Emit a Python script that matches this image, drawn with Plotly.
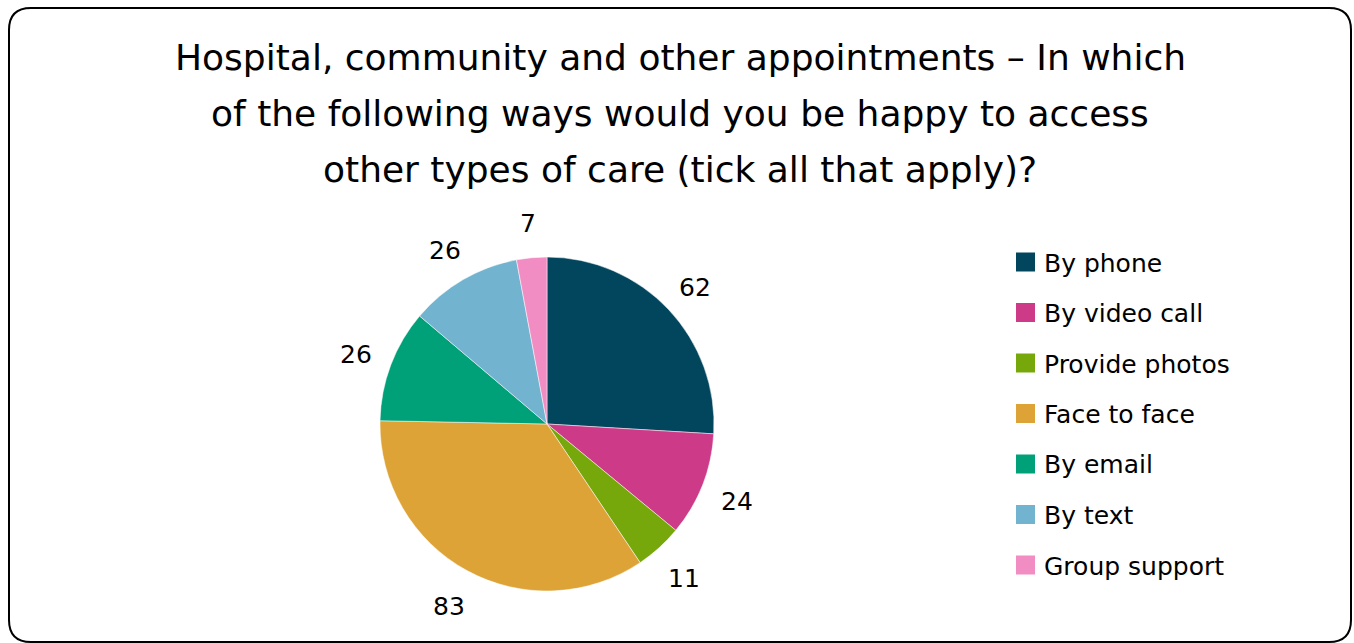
import math
import plotly.graph_objects as go

# Survey answers: ways respondents would be happy to access other types of care
categories = ["By phone", "By video call", "Provide photos", "Face to face",
              "By email", "By text", "Group support"]
counts = [62, 24, 11, 83, 26, 26, 7]
colors = ["#02465e", "#cc3a88", "#76a80b", "#dda337", "#00a078", "#72b3cf", "#f28dc4"]
title_lines = [
    "Hospital, community and other appointments \u2013 In which",
    "of the following ways would you be happy to access",
    "other types of care (tick all that apply)?",
]

W, H = 1354, 643
FONT = "DejaVu Sans"


def px_x(x):
    return x / W


def px_y(y):
    return 1 - y / H


# pie geometry in pixels
cx, cy, r = 547, 424, 167
label_r = 204

fig = go.Figure()
fig.add_trace(go.Pie(
    labels=categories,
    values=counts,
    sort=False,
    direction="clockwise",
    rotation=0,
    marker=dict(colors=colors, line=dict(color="white", width=0.5)),
    textinfo="none",
    hoverinfo="label+value",
    showlegend=False,
    domain=dict(x=[px_x(cx - r), px_x(cx + r)], y=[px_y(cy + r), px_y(cy - r)]),
))

annotations = []

# value labels placed outside each slice at its mid-angle
total = sum(counts)
acc = 0
for v in counts:
    mid = (acc + v / 2) / total * 2 * math.pi
    acc += v
    lx = cx + label_r * math.sin(mid)
    ly = cy - label_r * math.cos(mid) + 3
    annotations.append(dict(
        x=px_x(lx), y=px_y(ly), xref="paper", yref="paper",
        text=str(v), showarrow=False, xanchor="center", yanchor="middle",
        font=dict(family=FONT, size=25, color="#000000"),
    ))

# title, one line per annotation
for i, line in enumerate(title_lines):
    annotations.append(dict(
        x=px_x(680), y=px_y(58 + 56 * i), xref="paper", yref="paper",
        text=line, showarrow=False, xanchor="center", yanchor="middle",
        font=dict(family=FONT, size=36, color="#000000"),
    ))

# legend: coloured squares with category names
shapes = []
leg_x, leg_y0, leg_dy, sq = 1016, 262, 50.5, 19
for i, (name, col) in enumerate(zip(categories, colors)):
    yc = leg_y0 + leg_dy * i
    shapes.append(dict(
        type="rect", xref="paper", yref="paper",
        x0=px_x(leg_x), x1=px_x(leg_x + sq),
        y0=px_y(yc + sq / 2), y1=px_y(yc - sq / 2),
        fillcolor=col, line=dict(width=0),
    ))
    annotations.append(dict(
        x=px_x(leg_x + sq + 7), y=px_y(yc + 1), xref="paper", yref="paper",
        text=name, showarrow=False, xanchor="left", yanchor="middle",
        font=dict(family=FONT, size=25, color="#000000"),
    ))

# rounded frame around the chart
x0, y0, x1, y1, rad = 9, 8, 1351, 642, 22
path = (
    f"M {px_x(x0 + rad)} {px_y(y0)} "
    f"L {px_x(x1 - rad)} {px_y(y0)} "
    f"Q {px_x(x1)} {px_y(y0)} {px_x(x1)} {px_y(y0 + rad)} "
    f"L {px_x(x1)} {px_y(y1 - rad)} "
    f"Q {px_x(x1)} {px_y(y1)} {px_x(x1 - rad)} {px_y(y1)} "
    f"L {px_x(x0 + rad)} {px_y(y1)} "
    f"Q {px_x(x0)} {px_y(y1)} {px_x(x0)} {px_y(y1 - rad)} "
    f"L {px_x(x0)} {px_y(y0 + rad)} "
    f"Q {px_x(x0)} {px_y(y0)} {px_x(x0 + rad)} {px_y(y0)} Z"
)
shapes.append(dict(type="path", xref="paper", yref="paper", path=path,
                   line=dict(color="#000000", width=2), fillcolor="rgba(0,0,0,0)"))

fig.update_layout(
    width=W, height=H,
    margin=dict(l=0, r=0, t=0, b=0),
    paper_bgcolor="white", plot_bgcolor="white",
    annotations=annotations, shapes=shapes,
    font=dict(family=FONT),
)

fig.write_html("out.html")
